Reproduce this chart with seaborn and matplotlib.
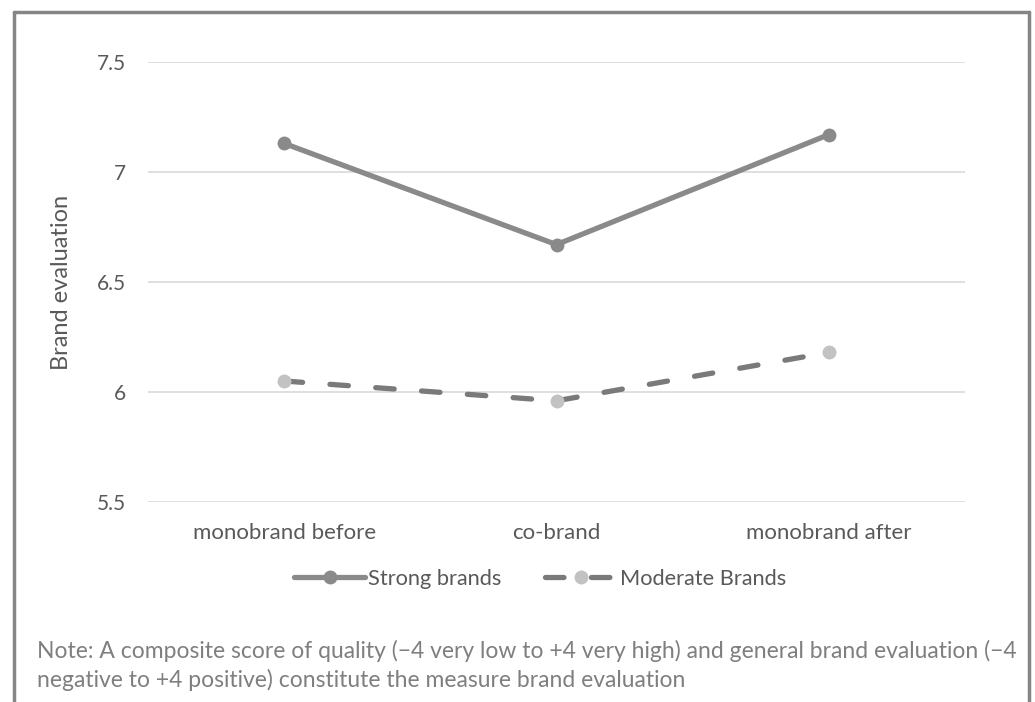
import matplotlib
matplotlib.use("Agg")
import matplotlib.pyplot as plt
import seaborn as sns
import pandas as pd
from matplotlib.lines import Line2D

categories = ["monobrand before", "co-brand", "monobrand after"]
strong_values = [7.13, 6.67, 7.17]
moderate_values = [6.05, 5.96, 6.18]
y_ticks = [5.5, 6, 6.5, 7, 7.5]
y_tick_labels = ["5.5", "6", "6.5", "7", "7.5"]

sns.set_theme(style="white")
plt.rcParams['font.family'] = ['Lato', 'DejaVu Sans']

W, H = 1035, 702
fig = plt.figure(figsize=(W / 100, H / 100), dpi=100)
ax = fig.add_axes([148 / W, 1 - 502 / H, (965 - 148) / W, (502 - 62) / H])

df_s = pd.DataFrame({"cat": categories, "val": strong_values})
df_m = pd.DataFrame({"cat": categories, "val": moderate_values})

LW = 3.8
DASH = [3.5, 5.2]
sns.lineplot(data=df_s, x="cat", y="val", ax=ax, color="#8a8a8a", lw=LW,
             marker="o", markersize=10, markeredgewidth=0, sort=False, zorder=3)
sns.lineplot(data=df_m, x="cat", y="val", ax=ax, color="#7a7a7a", lw=LW,
             marker="o", markersize=10, markeredgewidth=0, markerfacecolor="#c2c2c2",
             sort=False, zorder=3)
ln_m = ax.lines[-1]
ln_m.set_dashes(DASH)
ln_m.set_dash_capstyle("round")
ln_m.set_markerfacecolor("#c2c2c2")
ax.lines[0].set_solid_capstyle("round")

ax.set_xlim(-0.5, 2.5)
ax.set_ylim(5.5, 7.5)
ax.set_yticks(y_ticks)
ax.set_yticklabels(y_tick_labels)
ax.yaxis.grid(True, color="#d9d9d9", lw=1.2)
ax.set_axisbelow(True)
for s in ax.spines.values():
    s.set_visible(False)
ax.tick_params(axis="y", length=0, pad=16, labelsize=15, labelcolor="#595959")
ax.tick_params(axis="x", length=0, pad=15, labelsize=16, labelcolor="#595959")
ax.set_xlabel("")
ax.set_ylabel("Brand evaluation", fontsize=17, color="#595959", labelpad=18)

handles = [
    Line2D([], [], color="#8a8a8a", lw=LW, marker="o", markersize=10,
           markeredgewidth=0),
    Line2D([], [], color="#7a7a7a", lw=LW, marker="o", markersize=10,
           markeredgewidth=0, markerfacecolor="#c2c2c2", dashes=DASH,
           dash_capstyle="round"),
]
fig.legend(handles, ["Strong brands", "Moderate Brands"], loc="center",
           bbox_to_anchor=(540 / W, 1 - 579 / H), ncol=2, frameon=False,
           fontsize=15.7, labelcolor="#595959", handlelength=3.25,
           handletextpad=0.15, columnspacing=2.0)

fig.text(37 / W, 1 - 651 / H,
         "Note: A composite score of quality (\u22124 very low to +4 very high) and general brand evaluation (\u22124",
         fontsize=16.5, color="#7f7f7f", va="center", ha="left")
fig.text(37 / W, 1 - 680 / H,
         "negative to +4 positive) constitute the measure brand evaluation",
         fontsize=16.5, color="#7f7f7f", va="center", ha="left")

frame_kw = dict(color="#858585", lw=2.5, transform=fig.transFigure)
fig.add_artist(Line2D([14 / W, 14 / W], [0, 1 - 12 / H], **frame_kw))
fig.add_artist(Line2D([14 / W, 1029 / W], [1 - 12 / H, 1 - 12 / H], **frame_kw))
fig.add_artist(Line2D([1029 / W, 1029 / W], [0, 1 - 12 / H], **frame_kw))

fig.savefig("out.png", dpi=100)
